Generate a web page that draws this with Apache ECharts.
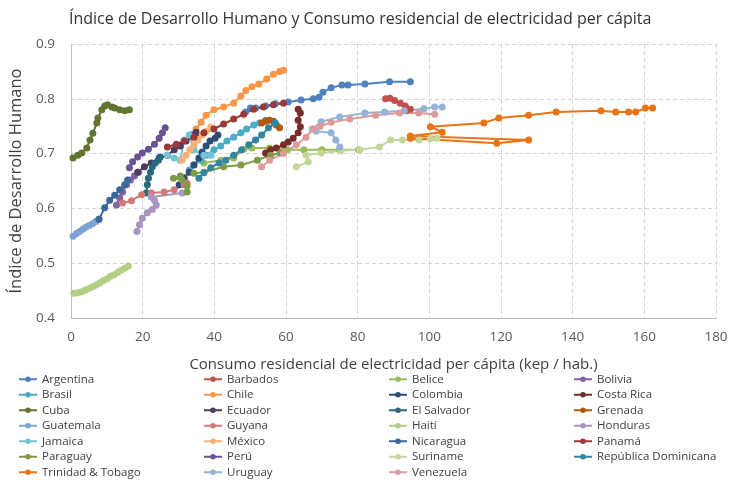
<!DOCTYPE html>
<html>
<head>
<meta charset="utf-8">
<script src="https://cdn.jsdelivr.net/npm/echarts@6/dist/echarts.min.js"></script>
<style>
  html, body { margin: 0; padding: 0; background: #fff; }
  #chart { width: 732px; height: 480px; }
</style>
</head>
<body>
<div id="chart"></div>
<script>
// datos: [consumo kep/hab, IDH]
const argentina = [[48.7,0.776],[50.1,0.783],[51.5,0.783],[54.3,0.787],[57,0.791],[60.6,0.794],[64.2,0.798],[67.6,0.8],[69.2,0.803],[70.3,0.812],[72.6,0.82],[75.6,0.825],[77.3,0.825],[82,0.827],[88.9,0.831],[94.7,0.831]];
const barbados = [[87.8,0.8],[89,0.801],[90.3,0.797],[91.9,0.792],[93.3,0.787],[94.7,0.781],[93.6,0.778]];
const belice = [[37.1,0.683],[41.8,0.688],[45.4,0.692],[48.2,0.708],[50.5,0.71],[55.4,0.71],[60.4,0.707],[65,0.707],[70,0.707],[75,0.707],[80.3,0.707]];
const bolivia = [[12.7,0.606],[13.6,0.619],[14.4,0.63],[15.5,0.643],[16.6,0.652],[17.7,0.659],[18.8,0.666]];
const brasil = [[33,0.67],[34.3,0.679],[36.3,0.688],[37.9,0.697],[39.9,0.707],[41.8,0.714],[43.5,0.723],[45.4,0.73],[47.4,0.738],[49,0.745],[51,0.752],[52.6,0.756],[54.3,0.761]];
const chile = [[34.9,0.745],[36.3,0.757],[37.7,0.77],[39.9,0.78],[42.6,0.785],[45.4,0.792],[47.4,0.805],[48.8,0.815],[50.5,0.822],[52.4,0.827],[54.6,0.836],[56.5,0.845],[58.2,0.85],[59.3,0.852]];
const colombia = [[30.2,0.643],[31.6,0.655],[33,0.666],[34.3,0.679],[35.7,0.692],[36.6,0.703],[37.7,0.714],[38.8,0.723],[40.2,0.728],[41,0.734]];
const costaRica = [[54.3,0.701],[55.7,0.707],[57.3,0.71],[59.3,0.716],[60.6,0.721],[62,0.728],[63.4,0.738],[64,0.749],[63.4,0.761],[64,0.774],[63.4,0.781]];
const cuba = [[0.55,0.692],[1.9,0.697],[3,0.701],[4.4,0.71],[5.3,0.725],[6.1,0.737],[7.2,0.756],[7.5,0.765],[8.6,0.78],[9.4,0.787],[10.2,0.789],[11.4,0.785],[12.2,0.783],[13.6,0.78],[15,0.778],[16.3,0.78]];
const ecuador = [[18.6,0.666],[20.5,0.676],[22.4,0.683],[24.6,0.692],[26.9,0.697],[28.8,0.707],[30.5,0.714],[32.1,0.723],[33.5,0.734],[34.9,0.739]];
const elSalvador = [[21,0.628],[21.3,0.643],[21.6,0.655],[22.2,0.666],[22.7,0.676],[23.5,0.683],[24.4,0.688],[24.9,0.694]];
const grenada = [[53.2,0.756],[54.3,0.759],[55.4,0.761],[56.5,0.759],[57.3,0.752],[58.2,0.747]];
const guatemala = [[0.6,0.549],[1.5,0.554],[2.4,0.558],[3.3,0.562],[4.2,0.566],[5.1,0.569],[6,0.572],[6.9,0.576],[7.8,0.58]];
const guyana = [[14.4,0.61],[16.9,0.614],[19.7,0.625],[22.4,0.628],[26,0.63],[28.8,0.634],[31.6,0.643],[32.4,0.646]];
const haiti = [[0.8,0.445],[2,0.446],[3,0.448],[4,0.451],[5,0.454],[6,0.457],[7,0.46],[8,0.464],[9,0.468],[10,0.471],[11,0.476],[12,0.479],[13,0.483],[14,0.487],[15,0.491],[16,0.495]];
const honduras = [[18.4,0.558],[19.1,0.57],[19.9,0.582],[21.3,0.592],[22.7,0.598],[23.8,0.606],[23.3,0.615],[22.4,0.621],[31,0.628]];
const jamaica = [[26.9,0.697],[28.8,0.692],[30.5,0.688],[31.6,0.725],[33,0.734],[34.3,0.707],[37.1,0.697],[39,0.697]];
const mexico = [[31,0.688],[32.1,0.697],[33.2,0.707],[34.3,0.716],[35.4,0.725],[36.6,0.734],[37.7,0.741],[39,0.748]];
const nicaragua = [[7.8,0.58],[9.4,0.601],[10.8,0.615],[12.2,0.624],[13.6,0.634],[15,0.643],[15.8,0.652]];
const panama = [[26.9,0.712],[29.4,0.717],[31.6,0.723],[34.3,0.73],[37.1,0.738],[39.9,0.745],[42.6,0.754],[45.4,0.763],[48.2,0.772],[51,0.781],[53.7,0.785],[56.5,0.789],[59.3,0.792]];
const paraguay = [[32.4,0.63],[32.4,0.641],[31,0.652],[28.6,0.655],[30.5,0.659],[34.3,0.664],[37.1,0.666],[42.6,0.676],[47.4,0.679],[52,0.688],[55.7,0.697],[58.4,0.701]];
const peru = [[16.3,0.674],[17.2,0.685],[18.6,0.694],[19.9,0.701],[21.6,0.708],[23.3,0.717],[24.6,0.728],[25.5,0.738],[26.3,0.747]];
const suriname = [[62.9,0.676],[66.2,0.685],[65.6,0.697],[69.8,0.701],[75.3,0.705],[80.6,0.707],[86.1,0.712],[89.2,0.725],[92.5,0.725],[97.2,0.725],[100.3,0.727],[102.2,0.728]];
const repDominicana = [[35.7,0.655],[37.1,0.665],[39,0.674],[41.3,0.683],[43.2,0.688],[45.4,0.697],[47.6,0.707],[49.6,0.716],[51.5,0.725],[53.2,0.734],[55.1,0.747],[57,0.756]];
const trinidad = [[94.7,0.728],[118.8,0.719],[127.7,0.725],[94.7,0.732],[103.6,0.739],[100.3,0.749],[115.2,0.756],[119.4,0.765],[127.7,0.77],[135.4,0.776],[147.9,0.778],[152,0.776],[155.6,0.776],[157.6,0.776],[160.3,0.783],[162.3,0.783]];
const uruguay = [[75,0.712],[73.9,0.725],[72.6,0.738],[68.4,0.741],[67.3,0.745],[69.8,0.758],[75,0.767],[82,0.774],[87.5,0.776],[93,0.778],[98.5,0.782],[101.5,0.785],[103.6,0.785]];
const venezuela = [[53.2,0.676],[55.4,0.688],[59.3,0.7],[62.9,0.716],[65.6,0.73],[67.6,0.745],[69.5,0.75],[72.6,0.757],[77.8,0.763],[85,0.77],[91.7,0.774],[97,0.774],[101.5,0.772]];

const countries = ['Argentina','Barbados','Belice','Bolivia','Brasil','Chile','Colombia','Costa Rica','Cuba','Ecuador','El Salvador','Grenada','Guatemala','Guyana','Haití','Honduras','Jamaica','México','Nicaragua','Panamá','Paraguay','Perú','Suriname','República Dominicana','Trinidad & Tobago','Uruguay','Venezuela'];
const values = [argentina,barbados,belice,bolivia,brasil,chile,colombia,costaRica,cuba,ecuador,elSalvador,grenada,guatemala,guyana,haiti,honduras,jamaica,mexico,nicaragua,panama,paraguay,peru,suriname,repDominicana,trinidad,uruguay,venezuela];
const xTicks = [0,20,40,60,80,100,120,140,160,180];
const yTicks = [0.4,0.5,0.6,0.7,0.8,0.9];

// colores por pais
const colors = ['#4f81bd','#c0504d','#9bbb59','#8064a2','#4bacc6','#f79646','#2c4d75','#772c2a','#5f7530','#4d3b62','#276a7c','#b65708','#7ba3d4','#d27a78','#b3cf84','#a895c4','#72c3d6','#f9b074','#3a679c','#9c3936','#7e9a48','#6a5394','#c3d69b','#31859c','#ea7316','#95b3d7','#dd9a98'];

const chart = echarts.init(document.getElementById('chart'));
const font = 'Open Sans';
const legendLeft = [18, 203, 388, 573];

const option = {
  animation: false,
  textStyle: { fontFamily: font },
  title: {
    text: 'Índice de Desarrollo Humano y Consumo residencial de electricidad per cápita',
    left: 64, top: 6,
    textStyle: { fontSize: 16, fontWeight: 'normal', color: '#333', fontFamily: font }
  },
  grid: { left: 66, right: 16, top: 44, bottom: 162 },
  xAxis: {
    type: 'value', min: xTicks[0], max: xTicks[xTicks.length - 1], interval: 20,
    name: 'Consumo residencial de electricidad per cápita (kep / hab.)',
    nameLocation: 'middle', nameGap: 39,
    nameTextStyle: { fontSize: 15, color: '#404040' },
    axisLine: { lineStyle: { color: '#bfbfbf' } },
    axisTick: { show: false },
    axisLabel: { fontSize: 13.5, color: '#595959', margin: 12 },
    splitLine: { show: true, lineStyle: { color: '#d4d4d4', type: [4, 3] } }
  },
  yAxis: {
    type: 'value', min: yTicks[0], max: yTicks[yTicks.length - 1], interval: 0.1,
    name: 'Índice de Desarrollo Humano',
    nameLocation: 'middle', nameGap: 46,
    nameTextStyle: { fontSize: 16.5, color: '#404040' },
    axisLine: { show: true, lineStyle: { color: '#bfbfbf' } },
    axisTick: { show: false },
    axisLabel: { fontSize: 13.5, color: '#595959', margin: 16, formatter: v => v.toFixed(1) },
    splitLine: { show: true, lineStyle: { color: '#d4d4d4', type: [4, 3] } }
  },
  legend: legendLeft.map((l, c) => ({
    data: countries.filter((_, i) => i % 4 === c),
    orient: 'vertical', left: l, top: 373, padding: 0,
    itemWidth: 18, itemHeight: 7, itemGap: 3,
    selectedMode: false,
    textStyle: { fontSize: 11.5, color: '#404040', lineHeight: 12.5 }
  })),
  series: countries.map((name, i) => ({
    name: name,
    type: 'line',
    data: values[i],
    symbol: 'circle',
    symbolSize: 7,
    color: colors[i],
    lineStyle: { width: 2 },
    emphasis: { disabled: true }
  }))
};
chart.setOption(option);
</script>
</body>
</html>
